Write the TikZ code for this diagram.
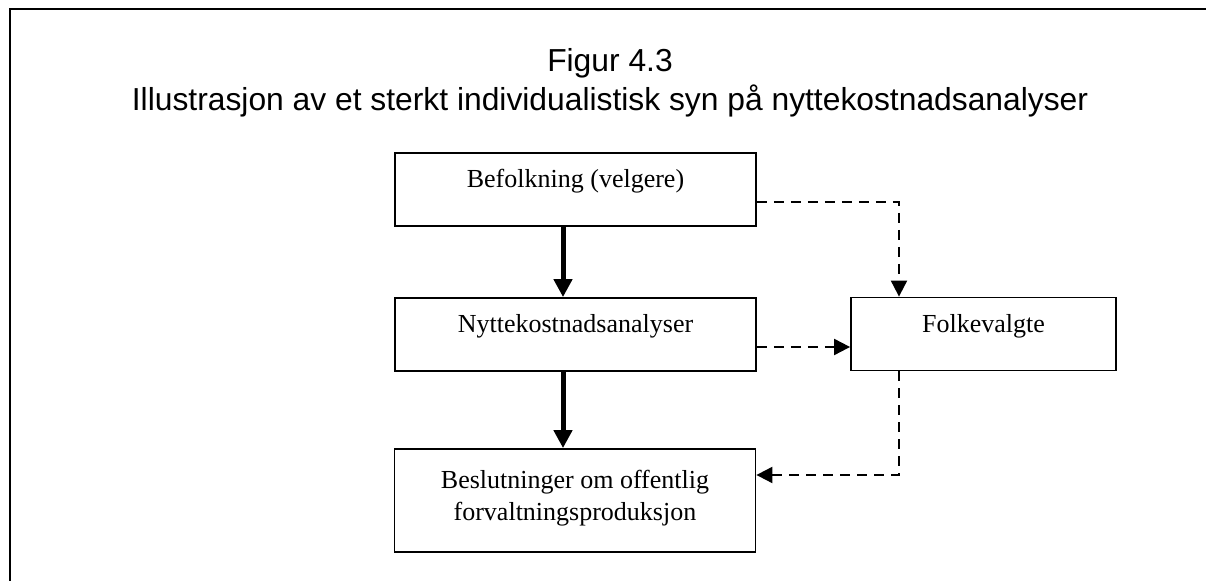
\documentclass[tikz,border=0pt]{standalone}
\usepackage{fontspec}
\setmainfont{Liberation Serif}
\newfontfamily\titlefont{Liberation Sans}
\usepackage{tikz}
\usetikzlibrary{arrows.meta,positioning}

\begin{document}
\begin{tikzpicture}[x=0.5pt,y=-0.5pt,
  tittel/.style={font=\titlefont\fontsize{15.9}{18}\selectfont,anchor=base},
  boks/.style={draw,line width=0.9pt,inner sep=0pt,minimum width=180.5pt,minimum height=36.5pt},
  bokstekst/.style={font=\fontsize{13}{16}\selectfont,align=center},
  tykkpil/.style={line width=2.5pt,-{Triangle[width=9pt,length=9pt]}},
  stiplet/.style={line width=1pt,dash pattern=on 5pt off 3.5pt,-{Triangle[width=8pt,length=8pt]}}]
  % ramme
  \useasboundingbox (0,0) rectangle (1206,581);
  \draw[line width=1pt] (1206,9) -- (10,9) -- (10,581);

  % tittel
  \node[tittel] (fignr) at (610,72) {Figur 4.3};
  \node[tittel] (figtittel) at (610,111) {Illustrasjon av et sterkt individualistisk syn på nyttekostnadsanalyser};

  % bokser
  \node[boks,label={[bokstekst,yshift=4pt]center:Befolkning (velgere)}] (befolk) at (575.5,189.5) {};
  \node[boks,label={[bokstekst,yshift=4pt]center:Nyttekostnadsanalyser}] (nka) at (575.5,334.5) {};
  \node[boks,minimum height=51.5pt,label={[bokstekst,yshift=1.25pt]center:Beslutninger om offentlig\\forvaltningsproduksjon}] (beslut) at (575,500.5) {};
  \node[boks,minimum width=132.5pt,label={[bokstekst,yshift=4pt]center:Folkevalgte}] (folk) at (983.5,334) {};

  % hovedpiler
  \draw[tykkpil] ([xshift=-6.25pt]befolk.south) -- ([xshift=-6.25pt]nka.north);
  \draw[tykkpil] ([xshift=-6.25pt]nka.south) -- ([xshift=-6pt]beslut.north);

  % stiplede piler via folkevalgte
  \draw[stiplet] ([yshift=-6.25pt]befolk.east) -| ([xshift=-42.25pt]folk.north);
  \draw[stiplet] ([yshift=-6.25pt]nka.east) -- ([yshift=-6.5pt]folk.west);
  \draw[stiplet] ([xshift=-42.25pt]folk.south) |- ([yshift=12.75pt]beslut.east);
\end{tikzpicture}
\end{document}
